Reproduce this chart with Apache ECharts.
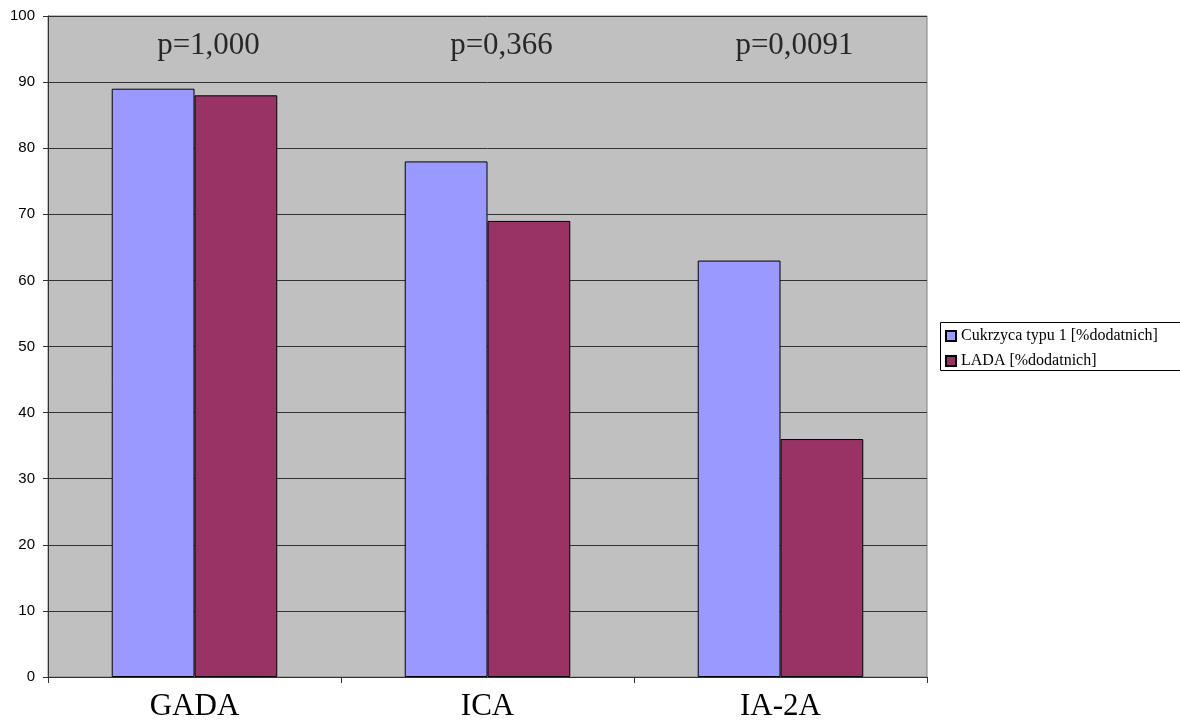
<!DOCTYPE html>
<html><head><meta charset="utf-8">
<script src="https://cdn.jsdelivr.net/npm/echarts@6/dist/echarts.min.js"></script>
<style>html,body{margin:0;padding:0;background:#fff}#c{width:1180px;height:722px}</style>
</head><body><div id="c"></div>
<script>
const categories = ['GADA', 'ICA', 'IA-2A'];
const seriesNames = ['Cukrzyca typu 1 [%dodatnich]', 'LADA [%dodatnich]'];
const type1Values = [89, 78, 63];
const ladaValues = [88, 69, 36];
const pLabels = ['p=1,000', 'p=0,366', 'p=0,0091'];
const pLabelLevel = 95.5;

const chart = echarts.init(document.getElementById('c'), null, {renderer: 'canvas'});
const barStyle = (color) => ({color: color, borderColor: '#000', borderWidth: 1});
chart.setOption({
  animation: false,
  backgroundColor: '#fff',
  grid: {left: 48, top: 16, width: 879, height: 661, show: true, backgroundColor: '#C0C0C0', borderColor: '#808080', borderWidth: 1},
  legend: {
    orient: 'vertical', left: 940, top: 323, padding: 5,
    icon: 'rect', itemWidth: 10, itemHeight: 10, itemGap: 9,
    data: seriesNames,
    textStyle: {fontFamily: 'Liberation Serif', fontSize: 16, color: '#000'}
  },
  graphic: [{type: 'rect', shape: {x: 940.5, y: 322.5, width: 260, height: 48}, style: {fill: 'none', stroke: '#000', lineWidth: 1}, z: 10}],
  xAxis: {
    type: 'category', data: categories,
    axisLine: {lineStyle: {color: '#333', width: 1}},
    axisTick: {show: true, length: 6, lineStyle: {color: '#333'}},
    axisLabel: {fontFamily: 'Liberation Serif', fontSize: 31, color: '#000', margin: 14},
    splitLine: {show: false}
  },
  yAxis: {
    type: 'value', min: 0, max: 100, interval: 10,
    axisLine: {show: true, lineStyle: {color: '#333', width: 1}},
    axisTick: {show: true, length: 5, lineStyle: {color: '#333'}},
    axisLabel: {fontFamily: 'Liberation Sans', fontSize: 15, color: '#000', margin: 13},
    splitLine: {show: true, lineStyle: {color: '#333', width: 1}}
  },
  series: [
    {name: seriesNames[0], type: 'bar', data: type1Values, itemStyle: barStyle('#9999FF'), barGap: '0%', barCategoryGap: '43.5%'},
    {name: seriesNames[1], type: 'bar', data: ladaValues, itemStyle: barStyle('#993366')},
    {name: 'p', type: 'scatter', symbolSize: 0, silent: true,
     data: categories.map((c, i) => ({value: [c, pLabelLevel], label: {formatter: pLabels[i]}})),
     label: {show: true, position: 'inside', offset: [14, 0], fontFamily: 'Liberation Serif', fontSize: 31, color: '#000'}}
  ]
});
</script></body></html>
